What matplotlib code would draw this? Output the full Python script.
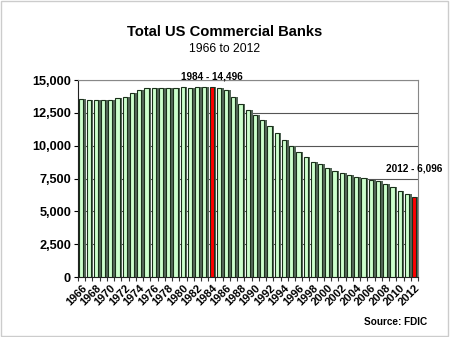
import numpy as np
import matplotlib
matplotlib.use("Agg")
import matplotlib.pyplot as plt
from matplotlib.patches import Rectangle
from matplotlib.ticker import FuncFormatter

plt.rcParams['font.family'] = ['Liberation Sans', 'DejaVu Sans']

# number of FDIC-insured commercial banks, year end
years = list(range(1966, 2013))
banks = [13538, 13514, 13487, 13464, 13511, 13602, 13733, 13975, 14229, 14384,
         14410, 14412, 14391, 14364, 14434, 14414, 14451, 14469, 14496, 14417,
         14210, 13723, 13137, 12715, 12347, 11927, 11466, 10961, 10453, 9942,
         9531, 9146, 8777, 8584, 8318, 8082, 7890, 7771, 7632, 7527,
         7403, 7286, 7089, 6843, 6532, 6291, 6096]
highlight = [1984, 2012]

face_green = '#ccffcc'
edge_dark = '#1a301a'
side_shade = '#56685a'

fig = plt.figure(figsize=(4.5, 3.37), dpi=100)
ax = fig.add_axes([0.1733, 0.178, 0.7556, 0.5846])

x = np.arange(len(years))
colors = ['#ff0000' if y in highlight else face_green for y in years]

# darker side of each bar for the 3-D look
ax.bar(x + 0.33, banks, width=0.6, color=side_shade, edgecolor='none', zorder=2)
ax.bar(x - 0.03, banks, width=0.58, color=colors, edgecolor=edge_dark, linewidth=0.8, zorder=3)

ax.set_xlim(-0.5, len(years) - 0.5)
ax.set_ylim(0, 15000)
ax.set_yticks(np.arange(0, 15001, 2500))
ax.yaxis.set_major_formatter(FuncFormatter(lambda v, p: f'{int(v):,}'))
ax.yaxis.grid(True, color='#555555', linewidth=0.8, zorder=0)
ax.set_axisbelow(True)

# category boundaries get the tick marks, labels sit every other year
ax.set_xticks(x[::2])
ax.set_xticklabels([str(y) for y in years[::2]], rotation=45, ha='right',
                   rotation_mode='anchor', fontsize=8, fontweight='bold')
ax.set_xticks(np.arange(-0.5, len(years), 1), minor=True)
ax.tick_params(axis='x', which='major', length=0, pad=4)
ax.tick_params(axis='x', which='minor', length=3, width=0.8, color='#333333')
ax.tick_params(axis='y', length=3, width=0.8, labelsize=9.2, pad=2)
for lab in ax.get_yticklabels():
    lab.set_fontweight('bold')

ax.spines['top'].set_color('#888888')
ax.spines['right'].set_color('#888888')
ax.spines['left'].set_color('#222222')
ax.spines['bottom'].set_color('#222222')

for yr in highlight:
    i = years.index(yr)
    ax.annotate(f'{yr} - {banks[i]:,}', xy=(i, banks[i]), xytext=(0, 17 if yr == 2012 else 4),
                textcoords='offset points', ha='center', va='bottom',
                fontsize=7.2, fontweight='bold', annotation_clip=False)

fig.text(0.5, 0.905, 'Total US Commercial Banks', ha='center', va='center',
         fontsize=10.6, fontweight='bold')
fig.text(0.5, 0.855, '1966 to 2012', ha='center', va='center', fontsize=8.8)
fig.text(0.949, 0.045, 'Source: FDIC', ha='right', va='center',
         fontsize=7.2, fontweight='bold')

fig.patches.append(Rectangle((0.002, 0.004), 0.994, 0.992, transform=fig.transFigure,
                             fill=False, edgecolor='#cccccc', linewidth=1))

fig.savefig('out.png', dpi=100)
